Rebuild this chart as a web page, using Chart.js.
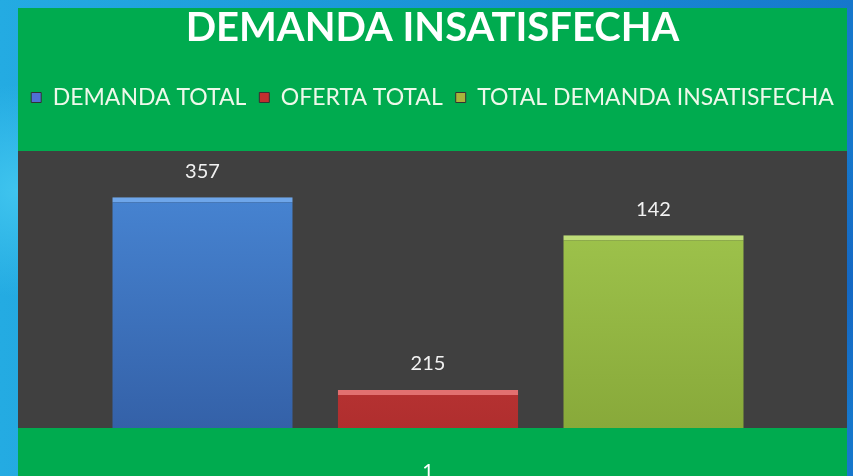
<!DOCTYPE html>
<html lang="es">
<head>
<meta charset="utf-8">
<title>Demanda insatisfecha</title>
<script src="https://cdn.jsdelivr.net/npm/chart.js@4/dist/chart.umd.min.js"></script>
<style>
  html, body { margin: 0; padding: 0; width: 853px; height: 476px; overflow: hidden; }
  body {
    background:
      radial-gradient(circle at 2% 40%, #3fc4ee 0, rgba(63,196,238,0) 12%),
      radial-gradient(circle at 99% 60%, #1468c4 0, rgba(20,104,196,0) 15%),
      linear-gradient(90deg, #24abe2 0%, #1a94d8 50%, #1677cc 100%);
  }
  #panel {
    position: absolute; left: 18px; top: 8px;
    width: 829px; height: 468px;
    background: #00ab4f;
  }
</style>
</head>
<body>
<div id="panel"><canvas id="chart"></canvas></div>
<script>
// ── Daten ──────────────────────────────────────────────────────────────────
const CATEGORIES = ['1'];
const SERIES_NAMES = ['DEMANDA TOTAL', 'OFERTA TOTAL', 'TOTAL DEMANDA INSATISFECHA'];
const DEMANDA_TOTAL = [357];
const OFERTA_TOTAL = [215];
const DEMANDA_INSATISFECHA = [142];

// ── Farben ─────────────────────────────────────────────────────────────────
const FILLS = [
    ['#4a8ad9', '#3461a8'],
    ['#d44a48', '#b02e2e'],
    ['#a6cc52', '#88a93a'],
];
const TOP_EDGES = ['#6ea6ea', '#e27070', '#bedd78'];
const LEGEND_COLORS = ['#4f6fd6', '#c0302f', '#a8b43a'];

function gradientFor(index) {
    return (ctx) => {
        const area = ctx.chart.chartArea;
        if (!area) return FILLS[index][0];
        const g = ctx.chart.ctx.createLinearGradient(0, area.top, 0, area.bottom);
        g.addColorStop(0, FILLS[index][0]);
        g.addColorStop(1, FILLS[index][1]);
        return g;
    };
}

// ── Plugins ────────────────────────────────────────────────────────────────
const plotBackground = {
    id: 'plotBackground',
    beforeDraw(chart) {
        const { ctx, chartArea } = chart;
        ctx.save();
        ctx.fillStyle = '#404040';
        ctx.fillRect(0, chartArea.top, chart.width, chartArea.bottom - chartArea.top);
        ctx.restore();
    },
};

// zusätzlicher Abstand unter der Legende
const legendSpacing = {
    id: 'legendSpacing',
    beforeInit(chart) {
        const origFit = chart.legend.fit;
        chart.legend.fit = function () {
            origFit.bind(chart.legend)();
            this.height += 32;
        };
    },
};

const valueLabels = {
    id: 'valueLabels',
    afterDatasetsDraw(chart) {
        const { ctx } = chart;
        ctx.save();
        ctx.fillStyle = '#f2f2f2';
        ctx.font = '20px Lato, "Open Sans", sans-serif';
        ctx.textAlign = 'center';
        ctx.textBaseline = 'middle';
        chart.data.datasets.forEach((ds, i) => {
            chart.getDatasetMeta(i).data.forEach((bar, j) => {
                ctx.fillText(String(ds.data[j]), bar.x, bar.y - 26);
            });
        });
        ctx.restore();
    },
};

// ── Chart ──────────────────────────────────────────────────────────────────
const seriesValues = [DEMANDA_TOTAL, OFERTA_TOTAL, DEMANDA_INSATISFECHA];
const axisFor = ['y', 'y', 'y2'];

const datasets = SERIES_NAMES.map((name, i) => ({
    label: name,
    data: seriesValues[i],
    yAxisID: axisFor[i],
    stack: 's' + i,
    backgroundColor: gradientFor(i),
    borderColor: TOP_EDGES[i],
    borderWidth: { top: 5, left: 0, right: 0, bottom: 0 },
    borderSkipped: 'bottom',
    categoryPercentage: 0.825,
    barPercentage: 0.8,
}));

new Chart(document.getElementById('chart'), {
    type: 'bar',
    data: { labels: CATEGORIES, datasets },
    options: {
        responsive: true,
        maintainAspectRatio: false,
        animation: false,
        layout: { padding: 0 },
        plugins: {
            title: {
                display: true,
                text: 'DEMANDA INSATISFECHA',
                color: '#ffffff',
                font: { family: 'Lato, "Open Sans", sans-serif', size: 40, weight: 'bold', lineHeight: 1 },
                padding: { top: 0, bottom: 25 },
            },
            legend: {
                display: true,
                position: 'top',
                labels: {
                    color: '#eef8ea',
                    font: { family: 'Lato, "Open Sans", sans-serif', size: 23 },
                    boxWidth: 10,
                    boxHeight: 10,
                    padding: 13,
                    generateLabels(chart) {
                        return chart.data.datasets.map((ds, i) => ({
                            text: ds.label,
                            fillStyle: LEGEND_COLORS[i],
                            strokeStyle: '#333333',
                            lineWidth: 1,
                            datasetIndex: i,
                            fontColor: '#eef8ea',
                        }));
                    },
                },
            },
            tooltip: { enabled: false },
        },
        scales: {
            x: {
                grid: { display: false, drawTicks: false },
                border: { display: false },
                ticks: {
                    color: '#ffffff',
                    font: { family: 'Lato, "Open Sans", sans-serif', size: 20 },
                    padding: 32,
                },
                afterFit(scale) { scale.height = 48; },
            },
            y: {
                display: false,
                min: 187,
                max: 391,
            },
            y2: {
                display: true,
                position: 'right',
                min: 0,
                max: 204,
                grid: { display: false },
                border: { display: false },
                ticks: { display: false },
                afterFit(scale) { scale.width = 9; },
            },
        },
    },
    plugins: [plotBackground, legendSpacing, valueLabels],
});
</script>
</body>
</html>
